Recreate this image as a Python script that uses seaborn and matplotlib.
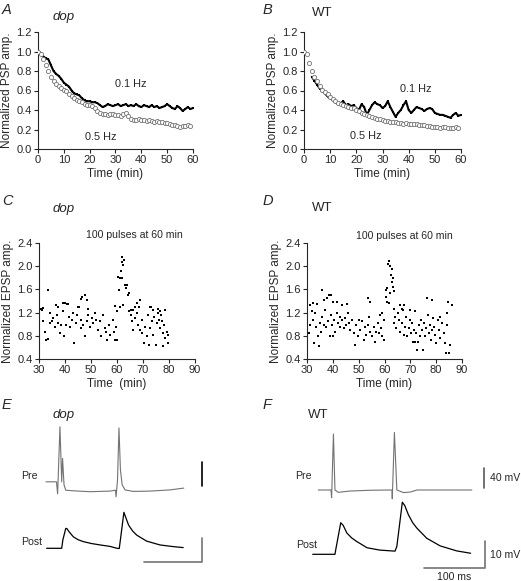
import numpy as np
import pandas as pd
import matplotlib
matplotlib.use("Agg")
import matplotlib.pyplot as plt
import seaborn as sns

sns.set_style("ticks")
plt.rcParams['font.family'] = ['Liberation Sans', 'DejaVu Sans']
plt.rcParams['font.size'] = 8

# ---- panel A / B : normalized PSP amplitude vs time ----
minutes = list(range(0, 61))
dop_01hz = [1.00, 0.98, 0.95, 0.93, 0.92, 0.86, 0.80, 0.77, 0.75, 0.72, 0.68, 0.66, 0.64, 0.60,
            0.57, 0.56, 0.55, 0.52, 0.50, 0.49, 0.49, 0.48, 0.48, 0.47, 0.45, 0.43, 0.44, 0.46,
            0.45, 0.44, 0.45, 0.46, 0.44, 0.45, 0.46, 0.44, 0.45, 0.44, 0.46, 0.44, 0.43, 0.45,
            0.44, 0.43, 0.45, 0.43, 0.44, 0.42, 0.43, 0.44, 0.46, 0.44, 0.42, 0.41, 0.44, 0.42,
            0.39, 0.41, 0.43, 0.41, 0.42]
dop_05hz = [1.00, 0.97, 0.92, 0.86, 0.80, 0.74, 0.70, 0.67, 0.65, 0.63, 0.61, 0.59, 0.56, 0.54,
            0.52, 0.50, 0.49, 0.48, 0.46, 0.45, 0.45, 0.44, 0.42, 0.39, 0.37, 0.36, 0.36, 0.35,
            0.36, 0.36, 0.35, 0.35, 0.34, 0.36, 0.37, 0.34, 0.31, 0.30, 0.30, 0.31, 0.30, 0.30,
            0.29, 0.30, 0.29, 0.28, 0.29, 0.28, 0.28, 0.27, 0.27, 0.26, 0.25, 0.25, 0.24, 0.23,
            0.24, 0.24, 0.25, 0.24]
wt_05hz = [1.00, 0.97, 0.88, 0.80, 0.74, 0.70, 0.65, 0.61, 0.58, 0.56, 0.53, 0.51, 0.49, 0.47,
           0.46, 0.45, 0.44, 0.43, 0.42, 0.42, 0.40, 0.39, 0.37, 0.36, 0.35, 0.34, 0.33, 0.32,
           0.31, 0.31, 0.30, 0.29, 0.29, 0.28, 0.28, 0.28, 0.27, 0.27, 0.26, 0.27, 0.26, 0.26,
           0.26, 0.26, 0.25, 0.25, 0.25, 0.24, 0.24, 0.23, 0.23, 0.23, 0.22, 0.23, 0.23, 0.22,
           0.22, 0.22, 0.23, 0.22]
wt_01hz_min = list(range(3, 61))
wt_01hz = [0.74, 0.70, 0.66, 0.62, 0.60, 0.57, 0.54, 0.52, 0.50, 0.48, 0.46, 0.47, 0.49, 0.45,
           0.46, 0.44, 0.45, 0.42, 0.40, 0.46, 0.43, 0.35, 0.40, 0.45, 0.48, 0.46, 0.45, 0.42,
           0.44, 0.49, 0.43, 0.38, 0.33, 0.37, 0.40, 0.45, 0.49, 0.40, 0.37, 0.40, 0.43, 0.42,
           0.41, 0.39, 0.41, 0.42, 0.41, 0.37, 0.36, 0.35, 0.35, 0.34, 0.33, 0.32, 0.35, 0.37,
           0.34, 0.35]

# ---- panel C / D : EPSP amplitude, 100 pulses at 60 min ----
dop_time = [30, 30.9, 31.5, 32.2, 32.6, 33.5, 34.1, 34.4, 35.1, 35.4, 36, 36.4, 36.9, 37.3, 38,
            38.6, 39.3, 39.5, 39.9, 40.5, 41.1, 41.6, 42.1, 42.5, 43.1, 43.6, 44.1, 44.7, 45.4,
            46, 46.3, 47, 47.6, 48.3, 48.9, 49.5, 50.2, 50.8, 51.5, 52.1, 52.8, 53.4, 54, 54.7,
            55.3, 55.7, 56.2, 57, 57.5, 58.3, 58.8, 59.2, 59.6, 60.1,
            33.6, 31.2, 31.7, 37.4, 39.4, 40.6, 46.2, 46.4, 47.7, 48.3, 45.1, 49,
            60.3, 60.8, 61.2, 61.5, 61.8, 62.1, 62.4, 62.8, 62.1, 63.1, 63.3, 63.7, 64.1, 64.7,
            62.4, 61.2, 59.9, 59.2,
            64.7, 65.2, 65.6, 66, 66.2, 66.9, 67.5, 67.9, 68.6, 68.8, 69.5, 69.8, 70.4, 70.8,
            71.4, 71.8, 72.2, 72.7, 73, 73.3, 74, 74.3, 75, 75.2, 75.9, 76.3, 76.5, 76.9, 77.3,
            77.6, 77.8, 78.1, 78.5, 79.1, 79.5, 79.8,
            65.4, 66.9, 67.6, 68.8, 72.7, 74, 75.9, 76.5, 78.5]
dop_epsp = [0.91, 1.27, 1.05, 0.87, 0.72, 0.74, 1.19, 1.02, 1.05, 1.10, 0.96, 1.33, 1.16, 1.02,
            0.85, 0.99, 1.22, 0.79, 1.36, 0.99, 1.35, 1.13, 0.96, 1.07, 1.19, 0.67, 1.02, 1.16,
            1.29, 0.93, 1.07, 0.99, 0.79, 1.05, 1.16, 0.96, 1.10, 1.02, 1.19, 1.07, 0.90, 1.05,
            0.79, 1.16, 0.93, 0.87, 0.73, 0.99, 0.82, 1.07, 0.87, 0.73, 0.96, 0.73,
            1.59, 1.25, 1.28, 1.30, 1.36, 1.34, 1.43, 1.47, 1.50, 1.42, 1.30, 1.27,
            1.82, 1.59, 1.79, 1.92, 2.08, 2.16, 2.02, 2.10, 1.79, 1.68, 1.62, 1.68, 1.50, 1.53,
            1.33, 1.30, 1.22, 1.32,
            1.22, 1.16, 1.05, 1.25, 0.90, 1.10, 1.19, 0.99, 1.30, 0.90, 0.85, 1.07, 0.67, 0.96,
            0.79, 1.16, 0.65, 0.93, 1.30, 1.05, 0.82, 1.13, 0.65, 1.02, 1.19, 1.07, 0.93, 1.16,
            1.05, 0.85, 0.62, 0.99, 0.76, 0.87, 0.67, 0.82,
            1.24, 1.30, 1.36, 1.42, 1.30, 1.24, 1.27, 1.22, 1.24]

wt_time = [30, 30.6, 31, 31.3, 31.9, 32.3, 32.6, 33.2, 33.6, 34.1, 34.5, 34.9, 35.4, 35.8, 36.5,
           37.1, 37.5, 38.1, 38.8, 39.3, 39.7, 40.1, 40.6, 41, 41.6, 42, 42.6, 42.9, 43.5, 44.2,
           44.8, 45.2, 45.7, 46.1, 46.8, 47.4, 48.1, 48.7, 49.1, 49.6, 50.1, 50.6, 51.3, 51.9,
           52.6, 53, 53.5, 53.9, 54.5, 55.2, 55.8, 56.5, 56.8, 57.4, 57.7, 58.1, 58.6, 59, 59.7,
           59.9,
           30.1, 32.5, 33.7, 35.7, 36.6, 37.6, 38.6, 39.2, 40.2, 41.7, 43.4, 45.4, 53.7, 54.4, 58.9,
           60.6, 61.1, 61.5, 61.9, 62.1, 62.4, 62.8, 63, 62.1, 63.2, 63.4, 63.8, 61.1, 60.6, 61.9,
           63.5, 63.8, 64.2, 64.6, 65.1, 65.5, 65.9, 66.1, 66.8, 67.2, 67.4, 68.1, 68.5, 68.7,
           69.4, 69.7, 70.3, 70.6, 71, 71.5, 71.9, 72.3, 72.6, 72.8, 73.2, 73.6, 74.1, 74.5, 74.9,
           75.2, 75.8, 76.2, 76.7, 77.1, 77.5, 78, 78.4, 78.8, 79, 79.7, 80.1, 80.6, 81, 81.6,
           82.3, 82.9, 83.3, 83.7, 84.2, 84.8, 85.2,
           66.6, 67.5, 69.9, 71.8, 76.3, 78.3, 84.7, 86, 81.5, 84.1]
wt_epsp = [1.16, 0.85, 1.33, 0.99, 1.22, 1.07, 0.67, 1.19, 0.96, 0.79, 0.62, 1.02, 0.87, 1.13,
           0.99, 1.25, 0.96, 1.05, 0.79, 1.16, 0.99, 0.79, 1.07, 0.87, 1.19, 1.02, 1.13, 0.96,
           1.07, 0.93, 1.10, 0.99, 1.19, 1.02, 0.90, 1.07, 0.85, 0.65, 0.99, 0.79, 1.07, 0.90,
           1.05, 0.73, 0.96, 0.82, 0.99, 1.13, 0.87, 0.79, 0.96, 0.70, 0.87, 1.02, 0.85, 1.16,
           0.93, 0.79, 1.07, 0.73,
           1.30, 1.36, 1.34, 1.59, 1.42, 1.45, 1.50, 1.51, 1.39, 1.39, 1.33, 1.34, 1.45, 1.39, 1.19,
           1.59, 1.62, 2.03, 2.09, 2.01, 1.85, 1.96, 1.73, 1.53, 1.79, 1.65, 1.57, 1.39, 1.47, 1.36,
           1.27, 1.02, 1.13, 0.93, 1.19, 1.07, 1.33, 0.87, 1.02, 1.25, 0.82, 0.96, 1.13, 0.79,
           0.93, 1.07, 0.85, 1.02, 0.70, 0.90, 0.70, 0.85, 0.56, 0.69, 0.99, 0.80, 1.07, 0.90,
           0.56, 1.02, 0.79, 0.93, 1.16, 0.85, 0.99, 0.73, 0.90, 1.10, 0.96, 0.82, 0.67, 1.07,
           0.90, 0.76, 1.02, 0.85, 0.67, 0.51, 0.99, 0.50, 0.65,
           1.27, 1.33, 1.25, 1.22, 1.45, 1.42, 1.39, 1.33, 1.13, 1.19]

# ---- panel E / F : paired recordings (ms, mV) ----
dop_pre_ms = [0, 18, 20, 24, 27, 28.5, 31, 34, 47, 76, 110, 119.5, 120.5, 123, 125.5, 128, 131,
              136, 150, 179, 213, 237]
dop_pre_mv = [17, 17, -3, 109, 17, 56, 12, 3, 2, 0.5, 1.5, 3, -8, 20, 107, 37, 12, 3.5, 1, 1.5,
              3.5, 6.5]
dop_post_ms = [1, 27, 29, 34, 36, 40, 47, 55, 64, 78, 93, 110, 122, 126, 129, 134, 137, 142,
               149, 156, 173, 196, 219, 236]
dop_post_mv = [0, 0, 3.5, 8.3, 8.2, 6.8, 4.8, 3.6, 2.8, 2.0, 1.4, 0.8, 0, -0.1, 5.5, 15, 13,
               9.7, 7.2, 5.5, 3, 1.4, 0.7, 0.3]
wt_pre_ms = [9, 30, 31, 34, 36.5, 42, 61, 94, 130, 130.5, 134, 138, 149, 160, 171, 261]
wt_pre_mv = [0, 0, -15, 108, 0, -4.5, -2, -0.5, 0, -17, 111, 0, -5, -4, 0, 0]
wt_post_ms = [0, 36.5, 38, 46, 50, 56, 64, 72, 89, 110, 135, 138, 147, 151, 157, 164, 171, 187,
              209, 236, 259]
wt_post_mv = [0, 0, 2, 12, 11, 8.1, 6.2, 4.9, 2.5, 1.6, 1.2, 3, 19.8, 18.5, 15, 12, 9.9, 6.1,
              3.2, 1.3, 0.4]

W, H = 521, 581
fig = plt.figure(figsize=(W / 100, H / 100), dpi=100)


def px_axes(left, top, right, bottom):
    return fig.add_axes([left / W, 1 - bottom / H, (right - left) / W, (bottom - top) / H])


def ftext(x, y, s, **kw):
    fig.text(x / W, 1 - y / H, s, **kw)


def style_axes(ax):
    sns.despine(ax=ax)
    ax.tick_params(direction='out', length=3, width=0.8, pad=1.5, labelsize=8)
    for sp in ax.spines.values():
        sp.set_linewidth(0.8)


# A and B
for box, fast_y, slow_x, slow_y in [((38, 32, 193, 149), dop_05hz, minutes, dop_01hz),
                                    ((304, 32, 461, 149), wt_05hz, wt_01hz_min, wt_01hz)]:
    ax = px_axes(*box)
    sns.lineplot(x=slow_x, y=slow_y, ax=ax, color='k', lw=1.5, marker='s',
                 markersize=1.6, markeredgewidth=0)
    sns.scatterplot(x=minutes[:len(fast_y)], y=fast_y, ax=ax, marker='o', s=9,
                    color='white', edgecolor='0.45', linewidth=0.6, zorder=3)
    ax.set_xlim(0, 60)
    ax.set_ylim(0, 1.2)
    ax.set_xticks(range(0, 61, 10))
    ax.set_yticks(np.arange(0, 1.21, 0.2))
    ax.yaxis.set_major_formatter(matplotlib.ticker.FormatStrFormatter('%.1f'))
    ax.set_xlabel('Time (min)', fontsize=8.5, labelpad=2)
    ax.set_ylabel('Normalized PSP amp.', fontsize=8.5, labelpad=2)
    style_axes(ax)

ftext(115, 84, '0.1 Hz', fontsize=7.8, ha='left', va='center')
ftext(85, 137, '0.5 Hz', fontsize=7.8, ha='left', va='center')
ftext(400, 89, '0.1 Hz', fontsize=7.8, ha='left', va='center')
ftext(350, 136, '0.5 Hz', fontsize=7.8, ha='left', va='center')

# C and D
for box, tx, vy, xlab in [((39, 243, 195, 359), dop_time, dop_epsp, 'Time  (min)'),
                          ((307, 243, 462, 359), wt_time, wt_epsp, 'Time (min)')]:
    ax = px_axes(*box)
    sns.scatterplot(x=tx, y=vy, ax=ax, marker='s', s=4.5, color='k', linewidth=0)
    ax.set_xlim(30, 90)
    ax.set_ylim(0.4, 2.4)
    ax.set_xticks(range(30, 91, 10))
    ax.set_yticks(np.arange(0.4, 2.41, 0.4))
    ax.yaxis.set_major_formatter(matplotlib.ticker.FormatStrFormatter('%.1f'))
    ax.set_xlabel(xlab, fontsize=8.5, labelpad=2)
    ax.set_ylabel('Normalized EPSP amp.', fontsize=8.5, labelpad=2)
    style_axes(ax)

ftext(134, 235, '100 pulses at 60 min', fontsize=7.6, ha='center', va='center')
ftext(404, 236, '100 pulses at 60 min', fontsize=7.6, ha='center', va='center')


# E and F traces: each axes placed so that t=0 / 0 mV land on the trace origin
def trace_axes(box, x0, y0, ms_px, mv_px):
    left, top, right, bottom = box
    ax = px_axes(*box)
    ax.set_xlim((left - x0) * ms_px, (right - x0) * ms_px)
    ax.set_ylim((y0 - bottom) * mv_px, (y0 - top) * mv_px)
    ax.axis('off')
    return ax


ax = trace_axes((40, 420, 215, 505), 46, 492, 1.72, 1.67)
sns.lineplot(x=dop_pre_ms, y=dop_pre_mv, ax=ax, color='0.45', lw=0.8, sort=False)
ax.plot([268, 268], [10.5, 50.5], color='k', lw=1.2, clip_on=False)
ax = trace_axes((40, 505, 215, 570), 46, 548.3, 1.72, 0.417)
sns.lineplot(x=dop_post_ms, y=dop_post_mv, ax=ax, color='k', lw=0.9, sort=False)
ax.plot([168.8, 268.8, 268.8], [-5.6, -5.6, 4.4], color='0.45', lw=1.2, clip_on=False)

ax = trace_axes((305, 420, 500, 505), 312.7, 490, 1.64, 1.93)
sns.lineplot(x=wt_pre_ms, y=wt_pre_mv, ax=ax, color='0.45', lw=0.8, sort=False)
ax.plot([281.4, 281.4], [3.3, 43.3], color='0.35', lw=1.2, clip_on=False)
ax.text(290, 23.3, '40 mV', fontsize=7.6, ha='left', va='center')
ax = trace_axes((305, 495, 500, 572), 312.7, 554.3, 1.64, 0.38)
sns.lineplot(x=wt_post_ms, y=wt_post_mv, ax=ax, color='k', lw=0.9, sort=False)
ax.plot([182.6, 282.6, 282.6], [-5.1, -5.1, 4.9], color='0.45', lw=1.2, clip_on=False)
ax.text(290, -0.1, '10 mV', fontsize=7.6, ha='left', va='center')
ax.text(232.6, -8.6, '100 ms', fontsize=7.6, ha='center', va='center')

# panel letters and titles
for x, y, s in [(2, 10, 'A'), (263, 10, 'B'), (2, 201, 'C'), (263, 201, 'D'),
                (2, 405, 'E'), (263, 405, 'F')]:
    ftext(x, y, s, fontsize=10.5, style='italic', ha='left', va='center')
for x, y, s, it in [(53, 17, 'dop', True), (312, 13, 'WT', False),
                    (53, 209, 'dop', True), (312, 208, 'WT', False),
                    (53, 415, 'dop', True), (308, 415, 'WT', False)]:
    ftext(x, y, s, fontsize=9.5, style='italic' if it else 'normal', ha='left', va='center')
for x, y, s in [(21, 476, 'Pre'), (21, 542, 'Post'), (295, 476, 'Pre'), (296, 545, 'Post')]:
    ftext(x, y, s, fontsize=7.6, ha='left', va='center')

fig.savefig('out.png', dpi=100)
